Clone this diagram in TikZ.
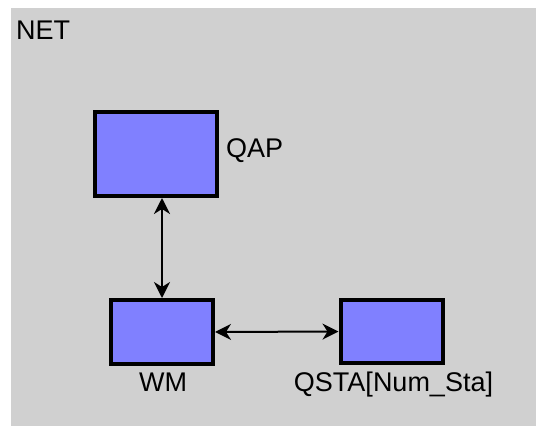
\documentclass[tikz,border=0pt]{standalone}
\usepackage{fontspec}
\setmainfont{Liberation Sans}
\usetikzlibrary{arrows.meta}

\definecolor{panelgray}{HTML}{D0D0D0}
\definecolor{boxblue}{HTML}{8080FF}

\tikzset{
  module/.style={draw=black, fill=boxblue, line width=4pt, rectangle, inner sep=0pt},
  lbl/.style={inner sep=0pt, font=\fontsize{27}{30}\selectfont},
  link/.style={line width=2pt, {Stealth[length=16pt,width=16pt,inset=5pt]}-{Stealth[length=16pt,width=16pt,inset=5pt]}}
}

\begin{document}
\begin{tikzpicture}[x=1pt,y=-1pt]

% page and panel
\fill[white] (0,0) rectangle (536,426);
\fill[panelgray] (11,8) rectangle (536,426);
\useasboundingbox (0,0) rectangle (536,426);

\node[lbl, anchor=base west] (net) at (16,39) {NET};

% modules
\node[module, minimum width=122pt, minimum height=84pt] (qap) at (156,154) {};
\node[module, minimum width=102pt, minimum height=64pt] (wm) at (162,332) {};
\node[module, minimum width=102pt, minimum height=63pt] (qsta) at (391.5,331.5) {};

% names
\node[lbl, anchor=base west] (qaplbl) at (226,157) {QAP};
\node[lbl, anchor=base] (wmlbl) at (163,391) {WM};
\node[lbl, anchor=base] (qstalbl) at (393.5,391) {QSTA[Num\_Sta]};

% links
\draw[link] (wm.north |- qap.south) -- (wm.north);
\draw[link] (wm.east) -- (qsta.west);

\end{tikzpicture}
\end{document}
